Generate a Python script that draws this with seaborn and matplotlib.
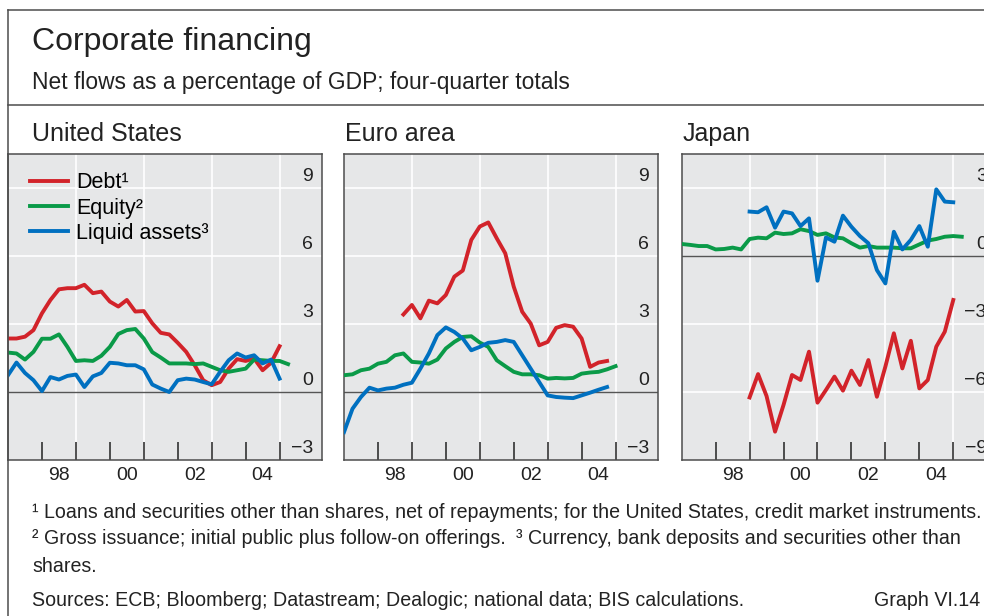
import numpy as np
import pandas as pd
import matplotlib
matplotlib.use("Agg")
import matplotlib.pyplot as plt
import matplotlib.transforms as mtransforms
from matplotlib.lines import Line2D
import seaborn as sns

# quarterly values, % of GDP; each series starts at the given year and steps a quarter
us_start = 1997.0
us_debt = [2.36, 2.36, 2.44, 2.73, 3.47, 4.06, 4.53, 4.58, 4.58, 4.73, 4.36, 4.43, 3.99,
           3.77, 4.06, 3.55, 3.57, 3.03, 2.61, 2.54, 2.17, 1.77, 1.18, 0.52, 0.30, 0.44,
           1.03, 1.45, 1.37, 1.48, 0.96, 1.29, 2.02]
us_equity = [1.74, 1.70, 1.43, 1.77, 2.35, 2.35, 2.54, 1.99, 1.37, 1.40, 1.37, 1.60, 1.99,
             2.56, 2.73, 2.78, 2.36, 1.76, 1.52, 1.26, 1.26, 1.26, 1.23, 1.26, 1.11, 0.96,
             0.89, 0.96, 1.03, 1.43, 1.40, 1.37, 1.37, 1.23]
us_liquid = [0.74, 1.30, 0.84, 0.52, 0.04, 0.66, 0.55, 0.71, 0.77, 0.22, 0.69, 0.84, 1.29,
             1.26, 1.18, 1.18, 1.00, 0.33, 0.15, 0.00, 0.52, 0.59, 0.55, 0.44, 0.34, 0.89,
             1.40, 1.70, 1.52, 1.62, 1.26, 1.43, 0.59]

ea_debt_start = 1998.75
ea_debt = [3.42, 3.84, 3.25, 4.03, 3.91, 4.28, 5.09, 5.36, 6.71, 7.30, 7.48, 6.78, 6.12,
           4.65, 3.54, 3.02, 2.06, 2.21, 2.83, 2.95, 2.88, 2.36, 1.11, 1.30, 1.37]
ea_start = 1997.0
ea_equity = [0.74, 0.78, 0.96, 1.03, 1.25, 1.33, 1.62, 1.70, 1.33, 1.30, 1.25, 1.43, 1.92,
             2.21, 2.43, 2.46, 2.18, 1.99, 1.40, 1.14, 0.89, 0.78, 0.78, 0.74, 0.59, 0.62,
             0.60, 0.62, 0.81, 0.86, 0.89, 1.00, 1.14]
ea_liquid = [-1.77, -0.74, -0.22, 0.19, 0.07, 0.15, 0.19, 0.32, 0.41, 1.03, 1.70, 2.51, 2.85,
             2.65, 2.36, 1.84, 1.99, 2.17, 2.21, 2.29, 2.21, 1.62, 1.03, 0.44, -0.15, -0.22,
             -0.25, -0.27, -0.15, -0.03, 0.10, 0.22]

jp_start = 1997.0
jp_late_start = 1999.0
jp_debt = [-6.24, -5.21, -6.18, -7.75, -6.57, -5.25, -5.47, -4.22, -6.47, -5.91, -5.32,
           -5.94, -5.06, -5.69, -4.59, -6.21, -4.88, -3.41, -4.96, -3.74, -5.84, -5.47,
           -4.00, -3.34, -1.94]
jp_equity = [0.53, 0.49, 0.44, 0.44, 0.29, 0.31, 0.37, 0.29, 0.75, 0.81, 0.78, 1.03, 0.97,
             1.00, 1.18, 1.10, 0.93, 1.00, 0.82, 0.78, 0.56, 0.37, 0.44, 0.37, 0.37, 0.37,
             0.34, 0.34, 0.51, 0.68, 0.75, 0.85, 0.88, 0.85]
jp_liquid = [1.96, 1.93, 2.15, 1.25, 1.96, 1.88, 1.32, 1.66, -1.09, 0.82, 0.63, 1.78, 1.29,
             0.88, 0.56, -0.62, -1.21, 1.07, 0.29, 0.71, 1.32, 0.41, 2.94, 2.40, 2.37]

series_names = ["Debt¹", "Equity²", "Liquid assets³"]
colors = ["#d2232a", "#0a9a48", "#0070c0"]
year_ticks = [1998, 1999, 2000, 2001, 2002, 2003, 2004, 2005]
year_labels = ["98", "00", "02", "04"]
label_pos = [1998.5, 2000.5, 2002.5, 2004.5]
vgrid = [1999, 2001, 2003, 2005]


def quarters(start, values):
    return start + 0.25 * np.arange(len(values))


plt.rcParams['font.family'] = ['Liberation Sans', 'DejaVu Sans']
W, H = 984, 616
fig = plt.figure(figsize=(W / 100, H / 100), dpi=100)

def fx(px):
    return px / W

def fy(py):
    return 1 - py / H

frame_c = "#4d4d4d"
fig.add_artist(Line2D([fx(8), 1], [fy(10), fy(10)], color=frame_c, lw=1.1))
fig.add_artist(Line2D([fx(8), 1], [fy(104.5), fy(104.5)], color=frame_c, lw=1.1))
fig.add_artist(Line2D([fx(8), fx(8)], [0, fy(10)], color=frame_c, lw=1.1))

fig.text(fx(32), fy(42), "Corporate financing", fontsize=23, va='center', color='#222222')
fig.text(fx(32), fy(82), "Net flows as a percentage of GDP; four-quarter totals",
         fontsize=16.4, va='center', color='#222222')

panels = [
    ("United States", 8, (-3, 10.5), [9, 6, 3, 0, -3], [3, 6, 9],
     [(us_start, us_debt), (us_start, us_equity), (us_start, us_liquid)]),
    ("Euro area", 344, (-3, 10.5), [9, 6, 3, 0, -3], [3, 6, 9],
     [(ea_debt_start, ea_debt), (ea_start, ea_equity), (ea_start, ea_liquid)]),
    ("Japan", 681.7, (-9, 4.5), [3, 0, -3, -6, -9], [3, -3, -6],
     [(jp_late_start, jp_debt), (jp_start, jp_equity), (jp_late_start, jp_liquid)]),
]

for i, (title, left, ylim, ylabs, hgrid, data) in enumerate(panels):
    ax = fig.add_axes([fx(left), fy(460), 314 / W, 306 / H])
    ax.set_facecolor("#e6e7e8")
    for v in hgrid:
        ax.axhline(v, color='white', lw=1.2, zorder=1)
    for v in vgrid:
        ax.axvline(v, color='white', lw=1.2, zorder=1)
    ax.axhline(0, color='#555555', lw=1.0, zorder=2)

    handles = []
    for (start, vals), c in zip(data, colors):
        df = pd.DataFrame({'x': quarters(start, vals), 'y': vals})
        sns.lineplot(data=df, x='x', y='y', ax=ax, color=c, lw=2.8, estimator=None,
                     zorder=3)
        handles.append(ax.lines[-1])

    ax.set_xlim(1997.0, 2006.25)
    ax.set_ylim(*ylim)
    ax.set_xlabel("")
    ax.set_ylabel("")
    ax.set_yticks([])
    ax.set_xticks(year_ticks)
    ax.set_xticklabels([])
    ax.set_xticks(label_pos, minor=True)
    ax.set_xticklabels(year_labels, minor=True, fontsize=14, color='#222222')
    ax.tick_params(axis='x', which='major', direction='in', length=13, width=1.1,
                   color='#222222')
    ax.tick_params(axis='x', which='minor', length=0, pad=5)
    for s in ax.spines.values():
        s.set_color(frame_c)
        s.set_linewidth(1.1)

    trans = mtransforms.blended_transform_factory(ax.transAxes, ax.transData)
    for v in ylabs:
        lab = str(v).replace('-', '\u2212')
        ax.annotate(lab, (1, v), xycoords=trans, xytext=(-9, 7), textcoords='offset pixels',
                    ha='right', va='baseline', fontsize=14, color='#222222', annotation_clip=False)

    fig.text(fx(left + 24 if i == 0 else left + 1), fy(134), title, fontsize=18, va='center',
             color='#222222')

    if i == 0:
        ax.legend(handles, series_names, loc='upper left', bbox_to_anchor=(0.07, 0.94),
                  frameon=False, fontsize=15.5, handlelength=1.75, handletextpad=0.4,
                  labelspacing=0.2, borderpad=0, borderaxespad=0)

foot = ['Liberation Sans Narrow', 'Liberation Sans', 'DejaVu Sans']
fig.text(fx(32), fy(513), "¹ Loans and securities other than shares, net of repayments; for the United States, credit market instruments.",
         fontsize=14.1, va='center', family=foot, color='#222222')
fig.text(fx(32), fy(539), "² Gross issuance; initial public plus follow-on offerings.",
         fontsize=14.1, va='center', family=foot, color='#222222')
fig.text(fx(516), fy(539), "³ Currency, bank deposits and securities other than",
         fontsize=14.1, va='center', family=foot, color='#222222')
fig.text(fx(32), fy(566), "shares.", fontsize=14.1, va='center', family=foot, color='#222222')
fig.text(fx(32), fy(601), "Sources: ECB; Bloomberg; Datastream; Dealogic; national data; BIS calculations.",
         fontsize=14.1, va='center', family=foot, color='#222222')
fig.text(fx(980), fy(601), "Graph VI.14", fontsize=14.1, va='center', ha='right', family=foot,
         color='#222222')

fig.savefig("out.png", dpi=100)
